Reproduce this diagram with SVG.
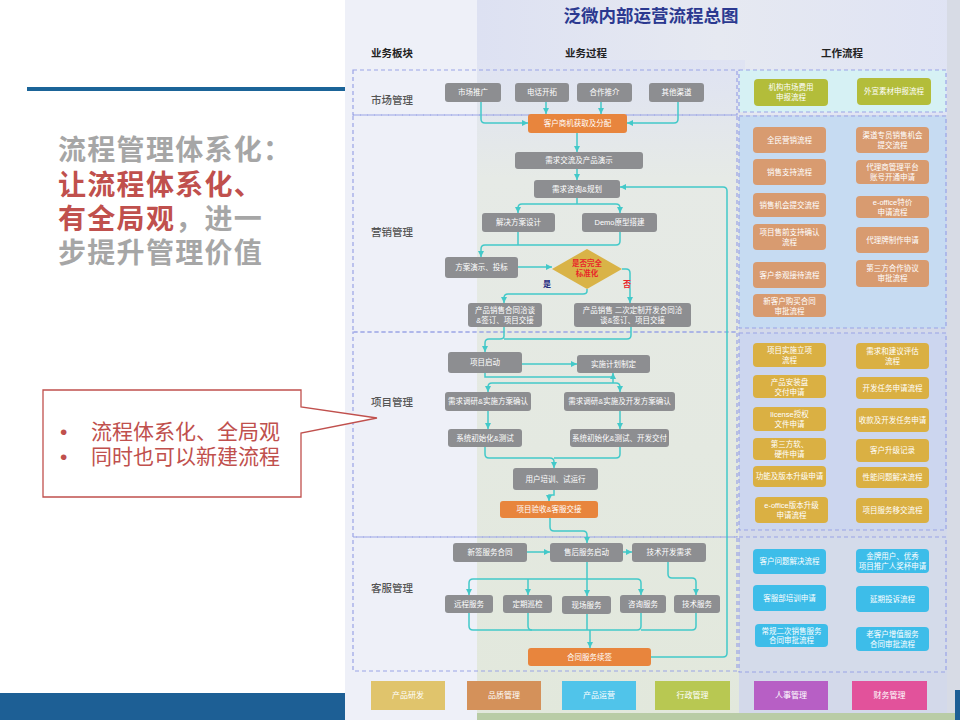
<svg xmlns="http://www.w3.org/2000/svg" width="960" height="720" viewBox="0 0 960 720">
<defs>
<style>
text{font-family:"Liberation Sans","Noto Sans CJK SC",sans-serif}
.g{fill:#8d8e91}
.o{fill:#e8853d}
.sa{fill:#d89b70}
.pj{fill:#dab043}
.cs{fill:#3dbde9}
.mk{fill:#b3bd3a}
.t{fill:#fff;font-size:7.5px;text-anchor:middle}
.lg{fill:#fff;font-size:8px;text-anchor:middle}
.rl{fill:#555;font-size:10.5px;font-weight:500}
.hd{fill:#222;font-size:10.5px;font-weight:700;text-anchor:middle}
.dash{fill:none;stroke:#9aa3e6;stroke-width:1.2;stroke-dasharray:4 3}
.c{fill:none;stroke:#43c9c9;stroke-width:1.5}
.ca{fill:none;stroke:#43c9c9;stroke-width:1.5;marker-end:url(#ah)}
</style>
<marker id="ah" viewBox="0 0 6 6" refX="6" refY="3" markerWidth="6" markerHeight="6" markerUnits="userSpaceOnUse" orient="auto"><path d="M0,0 L6,3 L0,6 z" fill="#43c9c9"/></marker>
<linearGradient id="mid" x1="0" y1="0" x2="0" y2="1">
<stop offset="0" stop-color="#dfe3f3"/><stop offset="0.18" stop-color="#e6eae6"/><stop offset="1" stop-color="#e2e8dc"/>
</linearGradient>
<linearGradient id="top" x1="0" y1="0" x2="1" y2="0">
<stop offset="0" stop-color="#dde1f2"/><stop offset="0.5" stop-color="#e6e9f1"/><stop offset="1" stop-color="#dfe3f4"/>
</linearGradient>
</defs>

<!-- slide background -->
<rect x="0" y="0" width="960" height="720" fill="#ffffff"/>
<rect x="27" y="87" width="318" height="4" fill="#1b6498"/>
<rect x="0" y="693" width="345" height="27" fill="#1d5f95"/>

<!-- diagram background -->
<rect x="345" y="0" width="615" height="720" fill="#eef0f8"/>
<rect x="477" y="0" width="483" height="115" fill="url(#top)"/>
<rect x="477" y="60" width="268" height="660" fill="url(#mid)"/>
<rect x="739" y="115" width="221" height="605" fill="#d3d9ea"/>
<rect x="947" y="0" width="13" height="720" fill="#d7dbe5"/>
<rect x="477" y="713" width="483" height="7" fill="#b9cca6"/>
<rect x="955" y="690" width="5" height="30" fill="#1d5f95"/>

<!-- row frames -->
<g id="frames">
<rect x="739" y="70" width="207" height="42" fill="#d6f1f4"/>
<rect x="739" y="116" width="207" height="212" fill="#c6dbf2"/>
<rect x="739" y="333" width="207" height="197" fill="#ccd6ef"/>
<rect x="739" y="537" width="207" height="135" fill="#d4dbea"/>
<rect class="dash" x="353" y="70" width="384" height="45"/>
<rect class="dash" x="353" y="115" width="384" height="217"/>
<rect class="dash" x="353" y="332" width="384" height="205"/>
<rect class="dash" x="353" y="537" width="384" height="134"/>
<rect class="dash" x="739" y="70" width="207" height="42"/>
<rect class="dash" x="739" y="116" width="207" height="212"/>
<rect class="dash" x="739" y="333" width="207" height="197"/>
<rect class="dash" x="739" y="537" width="207" height="135"/>
</g>

<!-- left slide text -->
<g id="heading">
<text font-size="28" font-weight="700" letter-spacing="1.3"><tspan x="58" y="160" fill="#a6a6a6">流程管理体系化：</tspan><tspan x="58" y="195" fill="#c0504d">让流程体系化、</tspan><tspan x="58" y="229" fill="#c0504d">有全局观</tspan><tspan fill="#a6a6a6">，进一</tspan><tspan x="58" y="263" fill="#a6a6a6">步提升管理价值</tspan></text>
</g>
<g id="callout">
<path d="M43 390 H301 V407 L377 418 L301 433 V497 H43 Z" fill="#ffffff" stroke="#c0504d" stroke-width="1.3"/>
<text font-size="21" fill="#c0504d"><tspan x="60" y="439">•</tspan><tspan x="91" y="439">流程体系化、全局观</tspan><tspan x="60" y="464">•</tspan><tspan x="91" y="464">同时也可以新建流程</tspan></text>
</g>

<!-- title and headers -->
<text x="651" y="22" font-size="17.5" font-weight="700" fill="#2b3990" text-anchor="middle">泛微内部运营流程总图</text>
<text class="hd" x="392" y="57">业务板块</text>
<text class="hd" x="586" y="57">业务过程</text>
<text class="hd" x="842" y="57">工作流程</text>
<text class="rl" x="371" y="104">市场管理</text>
<text class="rl" x="371" y="236">营销管理</text>
<text class="rl" x="371" y="406">项目管理</text>
<text class="rl" x="371" y="592">客服管理</text>

<!-- connectors -->
<g id="connectors">
<path class="ca" d="M481 102 V119 Q481 123 485 123 H528"/>
<path class="ca" d="M546 102 V114"/>
<path class="ca" d="M601 102 V114"/>
<path class="ca" d="M678 102 V119 Q678 123 674 123 H627"/>
<path class="ca" d="M577 133 V152"/>
<path class="ca" d="M577 169 V180"/>
<path class="c" d="M577 198 V204"/>
<path class="ca" d="M577 204 H522 Q518 204 518 208 V213"/>
<path class="ca" d="M577 204 H616 Q620 204 620 208 V213"/>
<path class="c" d="M518 232 V245"/>
<path class="ca" d="M620 232 V241 Q620 245 616 245 H485 Q481 245 481 249 V257"/>
<path class="ca" d="M518 267 H552"/>
<path class="ca" d="M587 289 V291 Q587 294 583 294 H508 Q504 294 504 298 V303"/>
<path class="ca" d="M622 269 H626 Q630 269 630 273 V303"/>
<path class="ca" d="M504 327 V336 Q504 339 500 339 H489 Q485 339 485 343 V352"/>
<path class="c" d="M631 327 V335 Q631 339 627 339 H504"/>
<path class="ca" d="M522 364 H577"/>
<path class="ca" d="M485 373 V377 H613 V373"/>
<path class="c" d="M613 377 V383"/>
<path class="ca" d="M613 383 H492 Q488 383 488 387 V392"/>
<path class="ca" d="M613 383 H616 Q620 383 620 387 V392"/>
<path class="ca" d="M488 411 V429"/>
<path class="ca" d="M620 411 V429"/>
<path class="ca" d="M485 447 V454 Q485 458 489 458 H550 Q554 458 554 462 V468"/>
<path class="c" d="M620 447 V454 Q620 458 616 458 H554"/>
<path class="ca" d="M554 490 V495 H549 V501"/>
<path class="ca" d="M550 518 V527 Q550 531 554 531 H583 Q587 531 587 535 V543"/>
<path class="ca" d="M527 552 H550"/>
<path class="ca" d="M623 552 H632"/>
<path class="c" d="M587 562 V579"/>
<path class="ca" d="M587 579 H473 Q469 579 469 583 V595"/>
<path class="ca" d="M528 579 V595"/>
<path class="ca" d="M587 579 V596"/>
<path class="ca" d="M587 579 H637 Q641 579 641 583 V595"/>
<path class="ca" d="M668 562 V574 Q668 578 672 578 H692 Q696 578 696 582 V595"/>
<path class="c" d="M469 613 V626 Q469 630 473 630 H590"/>
<path class="c" d="M528 613 V626 Q528 630 532 630"/>
<path class="c" d="M587 614 V630"/>
<path class="c" d="M641 613 V626 Q641 630 637 630 H590"/>
<path class="c" d="M696 613 V626 Q696 630 692 630 H641"/>
<path class="ca" d="M590 630 V648"/>
<path class="ca" d="M651 657 H723 Q727 657 727 653 V191 Q727 187 723 187 H620"/>
</g>

<!-- market nodes -->
<g id="n_sctg"><rect class="g" x="445" y="83" width="56" height="19" rx="3"/><text class="t" x="473" y="95">市场推广</text></g>
<g id="n_dhkt"><rect class="g" x="515" y="83" width="54" height="19" rx="3"/><text class="t" x="542" y="95">电话开拓</text></g>
<g id="n_hztj"><rect class="g" x="577" y="83" width="55" height="19" rx="3"/><text class="t" x="604.5" y="95">合作推介</text></g>
<g id="n_qtqd"><rect class="g" x="649" y="83" width="55" height="19" rx="3"/><text class="t" x="676.5" y="95">其他渠道</text></g>
<g id="n_khsj"><rect class="o" x="528" y="114" width="99" height="19" rx="3"/><text class="t" x="577.5" y="126">客户商机获取及分配</text></g>

<!-- sales nodes -->
<g id="n_xqjl"><rect class="g" x="515" y="152" width="128" height="17" rx="3"/><text class="t" x="579" y="163">需求交流及产品演示</text></g>
<g id="n_xqzx"><rect class="g" x="534" y="180" width="86" height="18" rx="3"/><text class="t" x="577" y="191.5">需求咨询&amp;规划</text></g>
<g id="n_jjfa"><rect class="g" x="482" y="213" width="73" height="19" rx="3"/><text class="t" x="518.5" y="225">解决方案设计</text></g>
<g id="n_demo"><rect class="g" x="582" y="213" width="75" height="19" rx="3"/><text class="t" x="619.5" y="225">Demo原型搭建</text></g>
<g id="n_fays"><rect class="g" x="445" y="257" width="73" height="21" rx="3"/><text class="t" x="481.5" y="270">方案演示、投标</text></g>
<g id="n_bzh"><path d="M587 249 L622 269 L587 289 L552 269 Z" fill="#d9b347"/><text font-size="7.5" font-weight="700" fill="#e8252a" text-anchor="middle"><tspan x="587" y="266">是否完全</tspan><tspan x="587" y="276">标准化</tspan></text></g>
<text x="547" y="287" font-size="8" font-weight="700" fill="#1f2a80" text-anchor="middle">是</text>
<text x="627" y="287" font-size="8" font-weight="700" fill="#e8252a" text-anchor="middle">否</text>
<g id="n_htqt"><rect class="g" x="468" y="303" width="74" height="24" rx="3"/><text class="t" x="505" y="313">产品销售合同洽谈</text><text class="t" x="505" y="323">&amp;签订、项目交接</text></g>
<g id="n_ecdz"><rect class="g" x="574" y="303" width="117" height="24" rx="3"/><text class="t" x="632.5" y="313">产品销售 二次定制开发合同洽</text><text class="t" x="632.5" y="323">谈&amp;签订、项目交接</text></g>

<!-- project nodes -->
<g id="n_xmqd"><rect class="g" x="448" y="352" width="74" height="21" rx="3"/><text class="t" x="485" y="364.5">项目启动</text></g>
<g id="n_ssjh"><rect class="g" x="577" y="355" width="73" height="18" rx="3"/><text class="t" x="613.5" y="366.5">实施计划制定</text></g>
<g id="n_xqdy1"><rect class="g" x="445" y="392" width="86" height="19" rx="3"/><text class="t" x="488" y="404">需求调研&amp;实施方案确认</text></g>
<g id="n_xqdy2"><rect class="g" x="564" y="392" width="111" height="19" rx="3"/><text class="t" x="619.5" y="404">需求调研&amp;实施及开发方案确认</text></g>
<g id="n_xtcs1"><rect class="g" x="448" y="429" width="74" height="18" rx="3"/><text class="t" x="485" y="440.5">系统初始化&amp;测试</text></g>
<g id="n_xtcs2"><rect class="g" x="570" y="429" width="99" height="18" rx="3"/><text class="t" x="619.5" y="440.5">系统初始化&amp;测试、开发交付</text></g>
<g id="n_yhpx"><rect class="g" x="513" y="468" width="85" height="22" rx="3"/><text class="t" x="555.5" y="481.5">用户培训、试运行</text></g>
<g id="n_xmys"><rect class="o" x="500" y="501" width="98" height="17" rx="3"/><text class="t" x="549" y="512">项目验收&amp;客服交接</text></g>

<!-- customer service nodes -->
<g id="n_xqfw"><rect class="g" x="453" y="543" width="74" height="19" rx="3"/><text class="t" x="490" y="555">新签服务合同</text></g>
<g id="n_shfw"><rect class="g" x="550" y="543" width="73" height="19" rx="3"/><text class="t" x="586.5" y="555">售后服务启动</text></g>
<g id="n_jskf"><rect class="g" x="632" y="543" width="74" height="19" rx="3"/><text class="t" x="669" y="555">技术开发需求</text></g>
<g id="n_ycfw"><rect class="g" x="445" y="595" width="48" height="18" rx="3"/><text class="t" x="469" y="606.5">远程服务</text></g>
<g id="n_dqxj"><rect class="g" x="503" y="595" width="49" height="18" rx="3"/><text class="t" x="527.5" y="606.5">定期巡检</text></g>
<g id="n_xcfw"><rect class="g" x="562" y="596" width="49" height="18" rx="3"/><text class="t" x="586.5" y="607.5">现场服务</text></g>
<g id="n_zxfw"><rect class="g" x="620" y="595" width="46" height="18" rx="3"/><text class="t" x="643" y="606.5">咨询服务</text></g>
<g id="n_jsfw"><rect class="g" x="674" y="595" width="46" height="18" rx="3"/><text class="t" x="697" y="606.5">技术服务</text></g>
<g id="n_htxq"><rect class="o" x="528" y="648" width="123" height="18" rx="3"/><text class="t" x="589.5" y="659.5">合同服务续签</text></g>

<!-- right: market -->
<g id="w_jgsc"><rect class="mk" x="754" y="79" width="74" height="27" rx="4"/><text class="t" x="791" y="90">机构市场费用</text><text class="t" x="791" y="100">申报流程</text></g>
<g id="w_wxsc"><rect class="mk" x="857" y="78" width="74" height="27" rx="4"/><text class="t" x="894" y="94">外宣素材申报流程</text></g>

<!-- right: sales -->
<g id="w_qmyx"><rect class="sa" x="753" y="127" width="73" height="26" rx="4"/><text class="t" x="789.5" y="142.5">全民营销流程</text></g>
<g id="w_xszc"><rect class="sa" x="753" y="159" width="73" height="26" rx="4"/><text class="t" x="789.5" y="174.5">销售支持流程</text></g>
<g id="w_xsjh"><rect class="sa" x="753" y="193" width="73" height="24" rx="4"/><text class="t" x="789.5" y="207.5">销售机会提交流程</text></g>
<g id="w_sqzc"><rect class="sa" x="753" y="224" width="73" height="26" rx="4"/><text class="t" x="789.5" y="235">项目售前支持确认</text><text class="t" x="789.5" y="245">流程</text></g>
<g id="w_khcg"><rect class="sa" x="753" y="262" width="73" height="26" rx="4"/><text class="t" x="789.5" y="277.5">客户参观接待流程</text></g>
<g id="w_xkhgm"><rect class="sa" x="753" y="294" width="73" height="23" rx="4"/><text class="t" x="789.5" y="304">新客户购买合同</text><text class="t" x="789.5" y="313.5">审批流程</text></g>
<g id="w_qdzy"><rect class="sa" x="856" y="127" width="73" height="26" rx="4"/><text class="t" x="892.5" y="138">渠道专员销售机会</text><text class="t" x="892.5" y="148">提交流程</text></g>
<g id="w_dls"><rect class="sa" x="856" y="160" width="73" height="24" rx="4"/><text class="t" x="892.5" y="170">代理商管理平台</text><text class="t" x="892.5" y="180">账号开通申请</text></g>
<g id="w_tj"><rect class="sa" x="856" y="196" width="73" height="22" rx="4"/><text class="t" x="892.5" y="205">e-office特价</text><text class="t" x="892.5" y="214.5">申请流程</text></g>
<g id="w_dlp"><rect class="sa" x="856" y="227" width="73" height="26" rx="4"/><text class="t" x="892.5" y="242.5">代理牌制作申请</text></g>
<g id="w_dsf"><rect class="sa" x="856" y="260" width="73" height="27" rx="4"/><text class="t" x="892.5" y="271">第三方合作协议</text><text class="t" x="892.5" y="281">审批流程</text></g>

<!-- right: project -->
<g id="w_lx"><rect class="pj" x="753" y="343" width="73" height="24" rx="4"/><text class="t" x="789.5" y="353">项目实施立项</text><text class="t" x="789.5" y="363">流程</text></g>
<g id="w_azp"><rect class="pj" x="753" y="375" width="73" height="23" rx="4"/><text class="t" x="789.5" y="384.5">产品安装盘</text><text class="t" x="789.5" y="394.5">交付申请</text></g>
<g id="w_lic"><rect class="pj" x="753" y="407" width="73" height="24" rx="4"/><text class="t" x="789.5" y="417">license授权</text><text class="t" x="789.5" y="427">文件申请</text></g>
<g id="w_dsfr"><rect class="pj" x="753" y="438" width="73" height="22" rx="4"/><text class="t" x="789.5" y="447">第三方软、</text><text class="t" x="789.5" y="457">硬件申请</text></g>
<g id="w_gnbb"><rect class="pj" x="753" y="466" width="73" height="21" rx="4"/><text class="t" x="789.5" y="479">功能及版本升级申请</text></g>
<g id="w_eosj"><rect class="pj" x="755" y="497" width="73" height="26" rx="4"/><text class="t" x="791.5" y="508">e-office版本升级</text><text class="t" x="791.5" y="518">申请流程</text></g>
<g id="w_xqjy"><rect class="pj" x="856" y="343" width="73" height="26" rx="4"/><text class="t" x="892.5" y="354">需求和建议评估</text><text class="t" x="892.5" y="364">流程</text></g>
<g id="w_kfrw"><rect class="pj" x="856" y="377" width="73" height="22" rx="4"/><text class="t" x="892.5" y="390.5">开发任务申请流程</text></g>
<g id="w_sk"><rect class="pj" x="856" y="408" width="73" height="24" rx="4"/><text class="t" x="892.5" y="422.5">收款及开发任务申请</text></g>
<g id="w_khsj"><rect class="pj" x="856" y="439" width="73" height="23" rx="4"/><text class="t" x="892.5" y="453">客户升级记录</text></g>
<g id="w_xnwt"><rect class="pj" x="856" y="467" width="73" height="21" rx="4"/><text class="t" x="892.5" y="480">性能问题解决流程</text></g>
<g id="w_fwyj"><rect class="pj" x="856" y="498" width="73" height="25" rx="4"/><text class="t" x="892.5" y="513">项目服务移交流程</text></g>

<!-- right: customer -->
<g id="w_khwt"><rect class="cs" x="753" y="549" width="73" height="25" rx="4"/><text class="t" x="789.5" y="564">客户问题解决流程</text></g>
<g id="w_kfpx"><rect class="cs" x="753" y="585" width="73" height="26" rx="4"/><text class="t" x="789.5" y="600.5">客服部培训申请</text></g>
<g id="w_cgec"><rect class="cs" x="755" y="624" width="73" height="23" rx="4"/><text class="t" x="791.5" y="633.5">常规二次销售服务</text><text class="t" x="791.5" y="643">合同审批流程</text></g>
<g id="w_jp"><rect class="cs" x="856" y="549" width="73" height="24" rx="4"/><text class="t" x="892.5" y="559">金牌用户、优秀</text><text class="t" x="892.5" y="569">项目推广人奖杯申请</text></g>
<g id="w_ts"><rect class="cs" x="856" y="586" width="73" height="26" rx="4"/><text class="t" x="892.5" y="601.5">延期投诉流程</text></g>
<g id="w_lkh"><rect class="cs" x="856" y="627" width="73" height="24" rx="4"/><text class="t" x="892.5" y="637">老客户增值服务</text><text class="t" x="892.5" y="647">合同审批流程</text></g>

<!-- legend -->
<g id="legend">
<g id="lg1"><rect x="371" y="681" width="74" height="29" fill="#e0c46c"/><text class="lg" x="408" y="698">产品研发</text></g>
<g id="lg2"><rect x="467" y="681" width="74" height="29" fill="#d4915a"/><text class="lg" x="504" y="698">品质管理</text></g>
<g id="lg3"><rect x="562" y="681" width="74" height="29" fill="#50c4ea"/><text class="lg" x="599" y="698">产品运营</text></g>
<g id="lg4"><rect x="655" y="681" width="75" height="29" fill="#b8c852"/><text class="lg" x="692.5" y="698">行政管理</text></g>
<g id="lg5"><rect x="754" y="681" width="74" height="29" fill="#b75fc5"/><text class="lg" x="791" y="698">人事管理</text></g>
<g id="lg6"><rect x="852" y="681" width="75" height="29" fill="#e2529b"/><text class="lg" x="889.5" y="698">财务管理</text></g>
</g>
</svg>
